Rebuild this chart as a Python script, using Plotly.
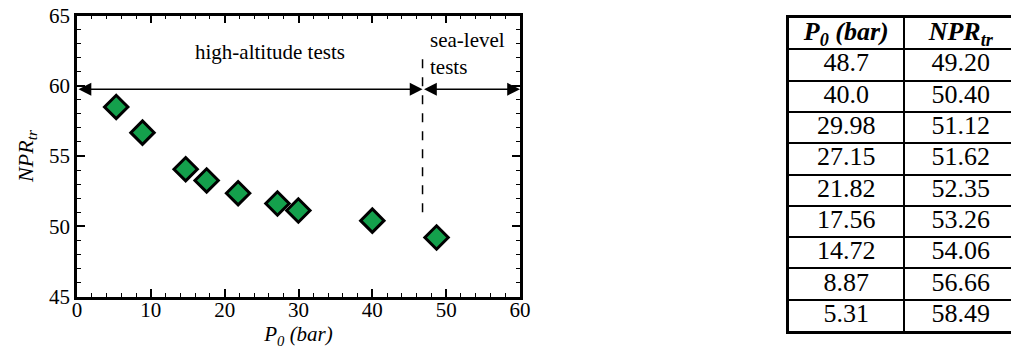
import plotly.graph_objects as go

# ---- data ----
p0_bar = [48.7, 40.0, 29.98, 27.15, 21.82, 17.56, 14.72, 8.87, 5.31]
npr_tr = [49.20, 50.40, 51.12, 51.62, 52.35, 53.26, 54.06, 56.66, 58.49]
p0_labels = ["48.7", "40.0", "29.98", "27.15", "21.82", "17.56", "14.72", "8.87", "5.31"]
npr_labels = ["49.20", "50.40", "51.12", "51.62", "52.35", "53.26", "54.06", "56.66", "58.49"]
table_headers = ["<b><i>P<sub>0</sub> (bar)</i></b>", "<b><i>NPR<sub>tr</sub></i></b>"]

split_p0 = 46.8          # boundary between high-altitude and sea-level tests
arrow_npr = 59.75
split_npr_range = [51.0, 62.2]

FONT = "Times New Roman, Liberation Serif, DejaVu Serif, serif"
OFF = 8                    # page body margin
W, H = 1019 - OFF, 354 - OFF


def fx(px):
    return (px - OFF) / W


def fy(py):
    return (H - (py - OFF)) / H


fig = go.Figure()

fig.add_trace(go.Scatter(
    x=p0_bar, y=npr_tr, mode="markers",
    marker=dict(symbol="diamond", size=18, color="#14a04c",
                line=dict(color="black", width=3)),
    showlegend=False, cliponaxis=False,
))

# ---- table drawn on its own axes ----
columns = [p0_labels, npr_labels]
n_rows = len(p0_labels) + 1
for ci, (head, col) in enumerate(zip(table_headers, columns)):
    texts = [head] + col
    fig.add_trace(go.Scatter(
        x=[ci] * n_rows, y=list(range(n_rows)), text=texts, mode="text",
        textposition="middle center",
        textfont=dict(family=FONT, size=26, color="black"),
        xaxis="x2", yaxis="y2", showlegend=False, hoverinfo="skip",
    ))

axis_common = dict(
    showline=True, linecolor="black", linewidth=2.5, mirror="ticks",
    ticks="inside", ticklen=8, tickwidth=1.5, tickcolor="black",
    showgrid=False, zeroline=False, automargin=False,
    ticklabeloverflow="allow",
    tickfont=dict(family=FONT, size=21, color="black"),
)

fig.update_layout(
    xaxis=dict(
        range=[0, 60], dtick=10, domain=[fx(77), fx(520)],
        minor=dict(dtick=2, ticks="inside", ticklen=4, tickwidth=1.2, tickcolor="black"),
        title=dict(text="<i>P<sub>0</sub> (bar)</i>", font=dict(family=FONT, size=21, color="black"),
                   standoff=0),
        ticklabelstandoff=-7,
        **axis_common,
    ),
    yaxis=dict(
        range=[45, 65], dtick=5, domain=[fy(296.5), fy(15.5)],
        minor=dict(dtick=1, ticks="inside", ticklen=4, tickwidth=1.2, tickcolor="black"),
        title=dict(text="<i>NPR<sub>tr</sub></i>", font=dict(family=FONT, size=22, color="black"),
                   standoff=10),
        **axis_common,
    ),
    xaxis2=dict(
        domain=[fx(789), fx(1018)], range=[-0.5, len(columns) - 0.5], anchor="y2",
        tickvals=[i + 0.5 for i in range(len(columns) - 1)],
        showticklabels=False, ticks="", showgrid=True, gridcolor="black", gridwidth=2,
        showline=True, linecolor="black", linewidth=2.5, mirror=True,
        zeroline=False, automargin=False, fixedrange=True,
    ),
    yaxis2=dict(
        domain=[fy(331), fy(18)], range=[n_rows - 0.5, -0.5], anchor="x2",
        tickvals=[i + 0.5 for i in range(n_rows - 1)],
        showticklabels=False, ticks="", showgrid=True, gridcolor="black", gridwidth=2,
        showline=True, linecolor="black", linewidth=2.5, mirror=True,
        zeroline=False, automargin=False, fixedrange=True,
    ),
)

# dashed split line
fig.add_shape(type="line", xref="x", yref="y", x0=split_p0, x1=split_p0,
              y0=split_npr_range[0], y1=split_npr_range[1],
              line=dict(color="black", width=1.5, dash="dash"))

# double arrows
for x_start, x_end in [(0, split_p0), (split_p0, 60)]:
    fig.add_annotation(x=x_end, y=arrow_npr, ax=x_start, ay=arrow_npr,
                       xref="x", yref="y", axref="x", ayref="y",
                       text="", showarrow=True, arrowhead=2, arrowside="end+start",
                       arrowsize=1.6, arrowwidth=1.6, arrowcolor="black",
                       standoff=0, startstandoff=0)

fig.add_annotation(x=26.1, y=62.4, xref="x", yref="y", text="high-altitude tests",
                   showarrow=False, font=dict(family=FONT, size=21, color="black"))
fig.add_annotation(x=47.6, y=62.3, xref="x", yref="y", text="sea-level<br>tests",
                   showarrow=False, xanchor="left", align="left",
                   font=dict(family=FONT, size=21, color="black"))

fig.update_layout(
    width=W, height=H, margin=dict(l=0, r=0, t=0, b=0, autoexpand=False),
    paper_bgcolor="white", plot_bgcolor="white",
    font=dict(family=FONT, color="black"),
)

fig.write_html("out.html")
